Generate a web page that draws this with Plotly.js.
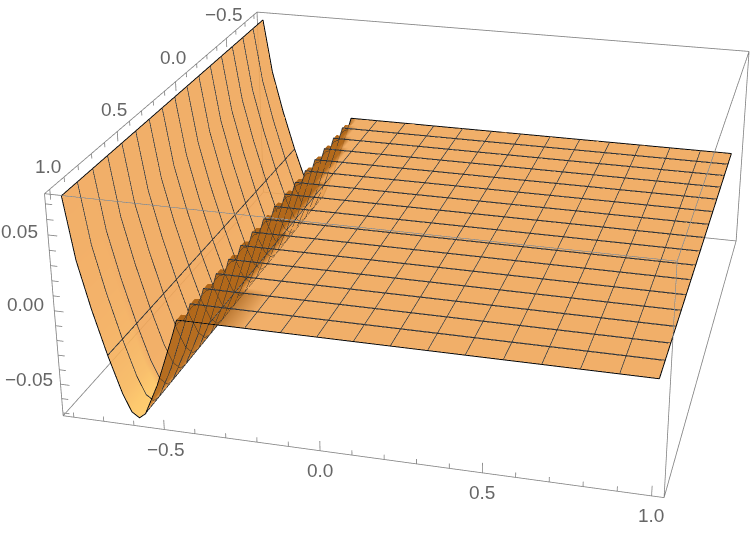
<!DOCTYPE html><html><head><meta charset="utf-8"><script src="https://cdn.plot.ly/plotly-3.0.1.min.js"></script>
<style>html,body{margin:0;background:#fff;overflow:hidden}#w{position:absolute;left:0;top:0;width:752px;height:538px;overflow:hidden}#g{position:absolute;left:-572px;top:-594px;width:2000px;height:1576px}</style></head><body><div id="w"><div id="g"></div></div>
<script>
const xBox=[-0.836,1.036],yBox=[1.036,-0.836],zBox=[-0.072,0.0765];
const xRange=[-0.838,1.038],yRange=[1.038,-0.838],zRange=[-0.0722,0.0767];
const xGrid=[-0.8,-0.769,-0.73,-0.6875,-0.647,-0.62,-0.596,-0.575,-0.56,-0.53,-0.50,-0.47,-0.455,-0.43,-0.41,-0.39,-0.37,-0.35,-0.33,-0.2375,-0.125,-0.0125,0.1,0.2125,0.325,0.4375,0.55,0.6625,0.775,0.8875,1];
const zProfile=[0.073,0.032,0.000,-0.030,-0.055,-0.067,-0.0705,-0.067,-0.060,-0.046,-0.028,-0.010,0,0,0,0,0,0,0,0,0,0,0,0,0,0,0,0,0,0,0];
const zNotch=[0.073,0.032,0.000,-0.030,-0.055,-0.067,-0.0705,-0.067,-0.060,-0.046,-0.028,-0.010,-0.005,0,0,0,0,0,0,0,0,0,0,0,0,0,0,0,0,0,0];
const shadeBack=[.5,.5,.5,.5,.52,.55,.5,.3,.1,.05,.05,.05,.05];
const shadeFront=[.5,.52,.55,.62,.75,.95,1,.6,.1,.05,.05,.05,.05];
const bandEdge=[-0.45,-0.42,-0.40,-0.385,-0.375,-0.37,-0.365,-0.36,-0.355,-0.35,-0.345,-0.34,-0.335,-0.33,-0.32,-0.32,-0.32];
const yGrid=[-0.8,-0.7625,-0.725,-0.6875,-0.65,-0.6125,-0.575,-0.5375,-0.5,-0.4625,-0.425,-0.3875,-0.35,-0.3125,-0.275,-0.2375,-0.2,-0.1625,-0.125,-0.0875,-0.05,-0.0125,0.025,0.0625,0.1,0.1375,0.175,0.2125,0.25,0.2875,0.325,0.3625,0.4,0.4375,0.475,0.5125,0.55,0.5875,0.625,0.6625,0.7,0.7375,0.775,0.8125,0.85,0.8875,0.925,0.9625,1];
const notchRows=[0,1,0,0,1,0,0,1,0,0,1,0,0,1,0,0,1,0,0,1,0,0,1,0,0,1,0,0,1,0,0,1,0,0,1,0,0,1,0,0,1,0,0,1,0,0,1,0,0];
const meshX=[-0.6875,-0.575,-0.35,-0.2375,-0.125,-0.0125,0.1,0.2125,0.325,0.4375,0.55,0.6625,0.775,0.8875];
const meshY=[-0.6875,-0.575,-0.4625,-0.35,-0.2375,-0.125,-0.0125,0.1,0.2125,0.325,0.4375,0.55,0.6625,0.775,0.8875];
const xMajor=[-0.5,0,0.5,1],xMinor=[-0.8,-0.7,-0.6,-0.4,-0.3,-0.2,-0.1,0.1,0.2,0.3,0.4,0.6,0.7,0.8,0.9];
const yMajor=[-0.5,0,0.5,1],yMinor=[-0.8,-0.7,-0.6,-0.4,-0.3,-0.2,-0.1,0.1,0.2,0.3,0.4,0.6,0.7,0.8,0.9];
const zMajor=[-0.05,0,0.05],zMinor=[-0.07,-0.06,-0.04,-0.03,-0.02,-0.01,0.01,0.02,0.03,0.04,0.06,0.07];
const xLabels=['\u22120.5','0.0','0.5','1.0'],yLabels=['\u22120.5','0.0','0.5','1.0'],zLabels=['\u22120.05','0.00','0.05'];
const eye={x:0.7914,y:-3.0232,z:1.3528};
const fw=[Math.cos(-0.3948)*Math.sin(-0.2580),Math.cos(-0.3948)*Math.cos(-0.2580),Math.sin(-0.3948)];
const D=-(eye.x*fw[0]+eye.y*fw[1]+eye.z*fw[2]);
const ctr={x:eye.x+fw[0]*D,y:eye.y+fw[1]*D,z:eye.z+fw[2]*D};

const zMatrix=yGrid.map((y,i)=>(notchRows[i]?zNotch:zProfile).slice());
const shade=yGrid.map((y,i)=>{const base=y>0.8?shadeFront:shadeBack,edge=bandEdge[Math.floor(i/3)];
 return xGrid.map((x,j)=>j<base.length?base[j]:(x<edge?0.07:0.5))});
const X0=xBox[0],X1=xBox[1],Y0=yBox[0],Y1=yBox[1],Z0=zBox[0],Z1=zBox[1];
const bx=[],by=[],bz=[],tx=[],ty=[],tz=[];
function seg(a,b,X,Y,Z){X.push(a[0],b[0],null);Y.push(a[1],b[1],null);Z.push(a[2],b[2],null)}
[[X0,Y0],[X1,Y0],[X1,Y1],[X0,Y1]].forEach((c,i,arr)=>{const n=arr[(i+1)%4];seg([c[0],c[1],Z0],[n[0],n[1],Z0],bx,by,bz);seg([c[0],c[1],Z1],[n[0],n[1],Z1],bx,by,bz);seg([c[0],c[1],Z0],[c[0],c[1],Z1],bx,by,bz)});
xMajor.forEach(v=>seg([v,Y0,Z0],[v,Y0,Z0+.0067],tx,ty,tz));xMinor.forEach(v=>seg([v,Y0,Z0],[v,Y0,Z0+.0033],tx,ty,tz));
yMajor.forEach(v=>seg([X0,v,Z1],[X0,v,Z1-.0067],tx,ty,tz));yMinor.forEach(v=>seg([X0,v,Z1],[X0,v,Z1-.0033],tx,ty,tz));
zMajor.forEach(v=>seg([X0,Y0,v],[X0+.03,Y0,v],tx,ty,tz));zMinor.forEach(v=>seg([X0,Y0,v],[X0+.022,Y0,v],tx,ty,tz));
const lift=0.0004;
const mx=[],my=[],mz=[];
meshX.forEach(v=>{const j=xGrid.indexOf(v);mx.push(v,v,null);my.push(-0.8,1,null);mz.push(zProfile[j]+lift,zProfile[j]+lift,null)});
meshY.forEach(v=>{xGrid.forEach((x,j)=>{mx.push(x);my.push(v);mz.push(zProfile[j]+lift)});mx.push(null);my.push(null);mz.push(null)});
const ex=[],ey=[],ez=[];
xGrid.forEach((x,j)=>{ex.push(x);ey.push(1);ez.push(zProfile[j])});ex.push(null);ey.push(null);ez.push(null);
xGrid.forEach((x,j)=>{ex.push(x);ey.push(-0.8);ez.push(zProfile[j])});ex.push(null);ey.push(null);ez.push(null);
ex.push(-0.8,-0.8,null,1,1);ey.push(-0.8,1,null,-0.8,1);ez.push(zProfile[0],zProfile[0],null,0,0);
const ann=[];const lab={color:'#666',size:19,family:'Liberation Sans, Arial, sans-serif'};
const A=(x,y,z,t,dx,dy,an)=>ann.push({x,y,z,text:t,showarrow:false,xshift:dx,yshift:dy,xanchor:an||'center',yanchor:'middle',font:lab});
const xSh=[2,0,0,-1],ySh=[[-2,24],[-3,24],[-3,22],[-2,23]],zSh=[[-6,5],[-8,6],[-8,3]];
xMajor.forEach((v,i)=>A(v,Y0,Z0,xLabels[i],xSh[i],-20));
yMajor.forEach((v,i)=>A(X0,v,Z1,yLabels[i],ySh[i][0],ySh[i][1]));
zMajor.forEach((v,i)=>A(X0,Y0,v,zLabels[i],zSh[i][0],zSh[i][1],'right'));
const axis=r=>({range:r,showgrid:false,zeroline:false,showline:false,showticklabels:false,ticks:'',title:{text:''},showspikes:false,showbackground:false});
Plotly.newPlot('g',[
{type:'surface',x:xGrid,y:yGrid,z:zMatrix,surfacecolor:shade,cmin:0,cmax:1,showscale:false,opacity:0.9,hoverinfo:'skip',
 colorscale:[[0,'#a85e10'],[0.5,'#f1a759'],[1,'#ffc860']],lighting:{ambient:1,diffuse:0,specular:0,roughness:1,fresnel:0},
 contours:{x:{show:true,start:-0.6875,end:-0.45,size:0.1125,color:'#333',width:1,highlight:false},y:{show:true,start:-0.6875,end:0.95,size:0.1125,color:'#333',width:1,highlight:false},z:{highlight:false}}},
{type:'scatter3d',mode:'lines',x:bx,y:by,z:bz,line:{color:'#808080',width:1.6},hoverinfo:'skip',connectgaps:false},
{type:'scatter3d',mode:'lines',x:tx,y:ty,z:tz,line:{color:'#808080',width:1.6},hoverinfo:'skip',connectgaps:false},
{type:'scatter3d',mode:'lines',x:mx,y:my,z:mz,line:{color:'#333',width:1.7},hoverinfo:'skip',connectgaps:false},
{type:'scatter3d',mode:'lines',x:ex,y:ey,z:ez,line:{color:'#000',width:2},hoverinfo:'skip',connectgaps:false}],
{margin:{l:0,r:0,t:0,b:0},showlegend:false,paper_bgcolor:'#fff',scene:{domain:{x:[0,1],y:[0,1]},aspectmode:'manual',aspectratio:{x:1.0021,y:1.0015,z:0.3998},camera:{eye:eye,center:ctr,up:{x:0,y:0,z:1}},annotations:ann,xaxis:axis(xRange),yaxis:axis(yRange),zaxis:axis(zRange)}},{displayModeBar:false});
</script></body></html>
